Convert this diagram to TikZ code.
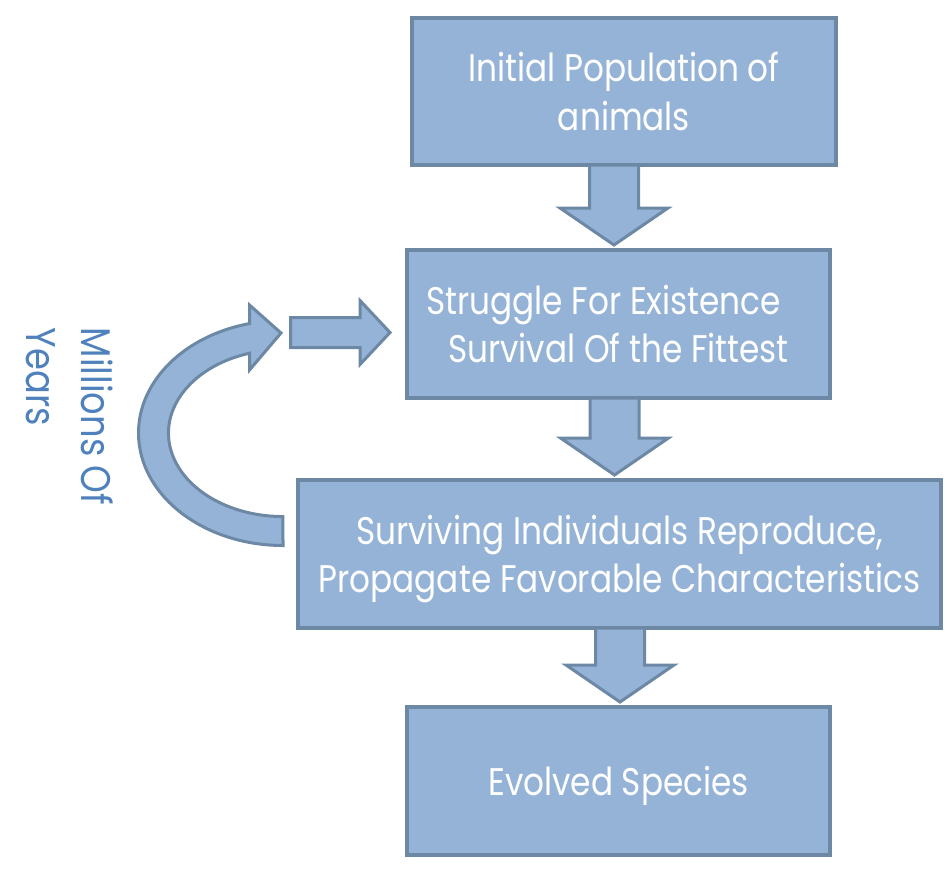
\documentclass[tikz,border=0pt]{standalone}
\usepackage{fontspec}
\setmainfont{Poppins}[FakeStretch=0.85]
\usepackage{tikz}
\usetikzlibrary{positioning,calc}

\definecolor{boxfill}{HTML}{95B3D7}
\definecolor{boxline}{HTML}{6C88A4}
\definecolor{yearblue}{HTML}{4F81BD}

\tikzset{
  stage/.style={rectangle, draw=boxline, fill=boxfill, line width=4pt, text=white,
    align=center, inner sep=0pt, minimum width=423pt, minimum height=148pt,
    font=\fontsize{38.5}{48.5}\selectfont},
  flowarrow/.style={draw=boxline, fill=boxfill, line width=3pt, line join=miter},
}

% block arrow from one stage down to the next: from, to, x offset
\newcommand{\stagearrow}[3]{%
  \draw[flowarrow] let \p1=($(#1.south)+(#3,2)$), \p2=($(#2.north)+(#3,3)$) in
    (\x1-24.5pt,\y1) -- (\x1-24.5pt,\y2+37pt) -- (\x1-54pt,\y2+37pt) -- (\x1,\y2)
    -- (\x1+54pt,\y2+37pt) -- (\x1+24.5pt,\y2+37pt) -- (\x1+24.5pt,\y1) -- cycle;}

\begin{document}
\begin{tikzpicture}[x=1pt, y=1pt]
\useasboundingbox (0,0) rectangle (947,-870);

\node[stage, minimum width=424pt, minimum height=147pt] (pop) at (624,-91.5) {Initial Population of\\animals};
\node[stage] (fight) [below=81pt of pop, xshift=-5.5pt] {Struggle For Existence\hspace*{30pt}\\Survival Of the Fittest};
\node[stage, minimum width=643pt, text depth=0pt] (breed) [below=78pt of fight, xshift=1pt] {Surviving Individuals Reproduce,\\Propagate Favorable Characteristics};
\node[stage, text depth=0pt] (species) [below=75pt of breed, xshift=-1pt] {Evolved Species};

\stagearrow{pop}{fight}{-10}
\stagearrow{fight}{breed}{-4}
\stagearrow{breed}{species}{0.5}

% loop back over the generations
\coordinate (loopend) at (290.5,-332.5);
\draw[flowarrow] (283,-545.5) arc[start angle=270, end angle=103.4, x radius=144.5pt, y radius=112.5pt]
  -- (249.5,-305) -- (281,-333) -- (249.5,-370) -- (249.5,-353.2)
  arc[start angle=107, end angle=270, x radius=114.5pt, y radius=83.5pt] -- cycle;
\draw[flowarrow] let \p1=(loopend), \p2=($(fight.west)+(-15,0)$) in
  (\x1,\y1+15pt) -- (\x2-30pt,\y1+15pt) -- (\x2-30pt,\y1+32pt) -- (\x2,\y1)
  -- (\x2-30pt,\y1-32pt) -- (\x2-30pt,\y1-15pt) -- (\x1,\y1-15pt) -- cycle;

\node[rotate=-90, align=left, text=yearblue, font=\fontsize{41.5}{55}\selectfont] (years) at (70,-416.5) {Millions Of\\Years};

\end{tikzpicture}
\end{document}
